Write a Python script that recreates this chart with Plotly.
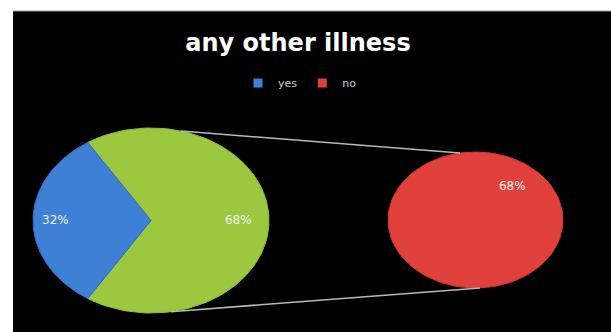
import numpy as np
import plotly.graph_objects as go

# ---- data ----
categories = ["yes", "no"]
primary_values = [32, 68]          # yes, other (no)
secondary_values = [68]            # no
slice_colors = {"yes": "#3d80d6", "other": "#9cc83f", "no": "#e0413a"}
title_text = "any other illness"

W, H = 611, 332
X0, Y0 = 13, 11   # top-left corner of the black chart area
# geometry (pixel-like coordinate system of the axes)
P_CX, P_CY, P_RX, P_RY = 151, 220.5, 118, 92.5
S_CX, S_CY, S_RX, S_RY = 475.5, 220, 87.5, 68


def ell(cx, cy, rx, ry, deg, r=1.0):
    t = np.radians(deg)
    return cx + r * rx * np.cos(t), cy - r * ry * np.sin(t)


def wedge(cx, cy, rx, ry, a0, a1, n=120):
    angs = np.linspace(a0, a1, n)
    xs = [cx] + [ell(cx, cy, rx, ry, a)[0] for a in angs] + [cx]
    ys = [cy] + [ell(cx, cy, rx, ry, a)[1] for a in angs] + [cy]
    return xs, ys


fig = go.Figure()

total = sum(primary_values)
yes_span = 360 * primary_values[0] / total
yes_a0, yes_a1 = 180 - yes_span / 2, 180 + yes_span / 2

# green ("other") slice
gx, gy = wedge(P_CX, P_CY, P_RX, P_RY, yes_a1 - 360, yes_a0)
fig.add_trace(go.Scatter(x=gx, y=gy, fill="toself", mode="lines",
                         fillcolor=slice_colors["other"],
                         line=dict(color="#8fbd35", width=1),
                         showlegend=False, hoverinfo="skip"))
# blue ("yes") slice
bx, by = wedge(P_CX, P_CY, P_RX, P_RY, yes_a0, yes_a1)
fig.add_trace(go.Scatter(x=bx, y=by, fill="toself", mode="lines",
                         fillcolor=slice_colors["yes"],
                         line=dict(color="#2f6fc4", width=1),
                         showlegend=False, hoverinfo="skip"))
# secondary pie ("no")
sx, sy = wedge(S_CX, S_CY, S_RX, S_RY, 90, 450)
fig.add_trace(go.Scatter(x=sx[1:-1], y=sy[1:-1], fill="toself", mode="lines",
                         fillcolor=slice_colors["no"],
                         line=dict(color="#d03530", width=1),
                         showlegend=False, hoverinfo="skip"))

# connector lines
p_top = ell(P_CX, P_CY, P_RX, P_RY, 75.3)
s_top = ell(S_CX, S_CY, S_RX, S_RY, 100.2)
p_bot = ell(P_CX, P_CY, P_RX, P_RY, -80.2)
s_bot = ell(S_CX, S_CY, S_RX, S_RY, -87)
fig.add_trace(go.Scatter(x=[p_top[0], s_top[0], None, p_bot[0], s_bot[0]],
                         y=[p_top[1], s_top[1], None, p_bot[1], s_bot[1]],
                         mode="lines", line=dict(color="#b8b8b8", width=1.5),
                         showlegend=False, hoverinfo="skip"))

# data labels
lab_yes = ell(P_CX, P_CY, P_RX, P_RY, 180, 0.81)
lab_oth = ell(P_CX, P_CY, P_RX, P_RY, 0, 0.74)
lab_no = ell(S_CX, S_CY, S_RX, S_RY, 49, 0.64)
fig.add_trace(go.Scatter(
    x=[lab_yes[0], lab_oth[0], lab_no[0]],
    y=[lab_yes[1], lab_oth[1], lab_no[1]],
    mode="text",
    text=[f"{primary_values[0]}%", f"{primary_values[1]}%", f"{secondary_values[0]}%"],
    textfont=dict(color="#f0f0f0", size=12, family="DejaVu Sans"),
    showlegend=False, hoverinfo="skip"))

# legend entries
for cat in categories:
    fig.add_trace(go.Scatter(x=[None], y=[None], mode="markers", name=cat,
                             marker=dict(symbol="square", size=9,
                                         color=slice_colors[cat])))

fig.update_layout(
    width=W, height=H,
    margin=dict(l=0, r=0, t=0, b=0, pad=0, autoexpand=False),
    paper_bgcolor="white",
    plot_bgcolor="black",
    title=dict(text=f"<b>{title_text}</b>", x=298 / W, xanchor="center",
               y=1 - 43 / H, yanchor="middle", yref="container",
               font=dict(color="white", size=24, family="DejaVu Sans")),
    legend=dict(orientation="h", x=300 / W, xanchor="center",
                y=1 - 83 / H, yanchor="middle", yref="container",
                font=dict(color="#cfcfcf", size=11, family="DejaVu Sans"),
                bgcolor="rgba(0,0,0,0)", itemwidth=30, tracegroupgap=0),
    xaxis=dict(range=[X0, W], domain=[X0 / W, 1], visible=False, fixedrange=True),
    yaxis=dict(range=[H, Y0], domain=[0, 1 - Y0 / H], visible=False, fixedrange=True),
    shapes=[dict(type="line", xref="paper", yref="paper",
                 x0=X0 / W, x1=1, y0=1 - Y0 / H, y1=1 - Y0 / H,
                 line=dict(color="#999999", width=1))],
    showlegend=True,
)

fig.write_html("out.html", config={"displayModeBar": False},
               post_script="document.body.style.margin='0';document.body.style.overflow='hidden';")
